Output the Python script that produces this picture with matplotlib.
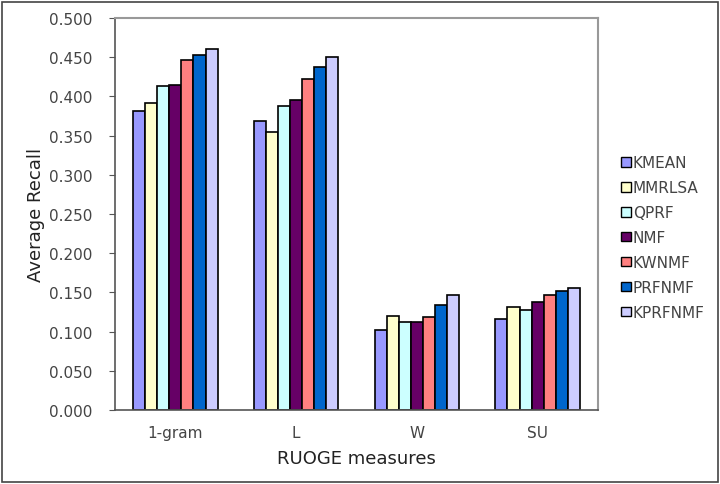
import matplotlib
matplotlib.use("Agg")
import matplotlib.pyplot as plt
import numpy as np
from matplotlib.patches import Rectangle

categories = ["1-gram", "L", "W", "SU"]
methods = ["KMEAN", "MMRLSA", "QPRF", "NMF", "KWNMF", "PRFNMF", "KPRFNMF"]
colors = ["#9999FF", "#FFFFCC", "#CCFFFF", "#660066", "#FF8080", "#0066CC", "#CCCCFF"]

kmean = [0.381, 0.369, 0.102, 0.116]
mmrlsa = [0.392, 0.354, 0.120, 0.131]
qprf = [0.413, 0.388, 0.112, 0.128]
nmf = [0.415, 0.395, 0.112, 0.138]
kwnmf = [0.446, 0.422, 0.119, 0.147]
prfnmf = [0.453, 0.437, 0.134, 0.152]
kprfnmf = [0.460, 0.450, 0.147, 0.156]
series = [kmean, mmrlsa, qprf, nmf, kwnmf, prfnmf, kprfnmf]

plt.rcParams['font.family'] = ['DejaVu Sans']

fig = plt.figure(figsize=(7.2, 4.85), dpi=100)
ax = fig.add_axes([0.1597, 0.1526, 0.6709, 0.8082])

x = np.arange(len(categories))
w = 0.1
for i, (name, vals) in enumerate(zip(methods, series)):
    ax.bar(x + (i - 3) * w, vals, w, color=colors[i], edgecolor="black",
           linewidth=1.2, label=name)

ax.set_xlim(-0.5, 3.5)
ax.set_ylim(0, 0.5)
ax.set_yticks(np.arange(0, 0.501, 0.05))
ax.set_yticklabels(["%.3f" % v for v in np.arange(0, 0.501, 0.05)],
                   color="#444444", fontsize=11)
ax.set_xticks(x)
ax.set_xticklabels(categories, color="#444444", fontsize=11)
ax.tick_params(axis="x", length=0, pad=11)
ax.tick_params(axis="y", direction="out", length=4, color="#555555", pad=12)

for s in ["top", "right"]:
    ax.spines[s].set_color("#999999")
    ax.spines[s].set_linewidth(1.5)
for s in ["left", "bottom"]:
    ax.spines[s].set_color("#555555")
    ax.spines[s].set_linewidth(1.2)

ax.set_ylabel("Average Recall", fontsize=13, color="#222222", labelpad=3)
ax.set_xlabel("RUOGE measures", fontsize=13, color="#222222", labelpad=6)

leg = ax.legend(loc="center left", bbox_to_anchor=(1.02, 0.44), frameon=False,
                fontsize=11, handlelength=0.6, handleheight=0.6,
                handletextpad=0.15, labelspacing=0.65, labelcolor="#444444")
for h in leg.legend_handles:
    h.set_linewidth(1.0)

fig.patches.append(Rectangle((0.003, 0.004), 0.994, 0.99, transform=fig.transFigure,
                             fill=False, edgecolor="#444444", linewidth=1.2))

fig.savefig("out.png", dpi=100)
